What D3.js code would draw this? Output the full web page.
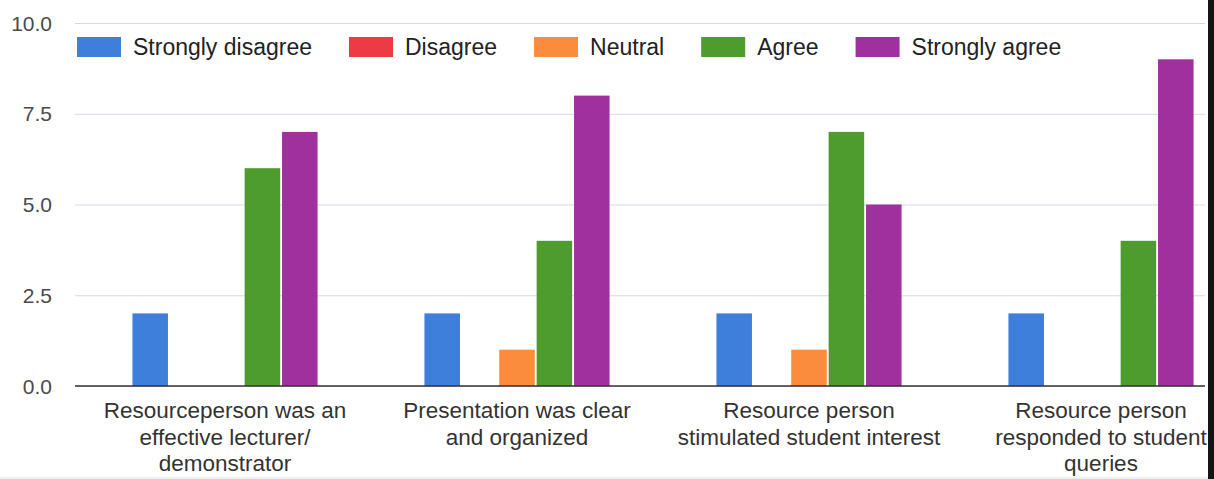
<!DOCTYPE html>
<html>
<head>
<meta charset="utf-8">
<script src="https://cdnjs.cloudflare.com/ajax/libs/d3/7.8.5/d3.min.js"></script>
<style>
  body { margin: 0; background: #fff; }
  svg { display: block; font-family: "Liberation Sans", Arial, sans-serif; }
</style>
</head>
<body>
<div id="chart"></div>
<script>
var categories = [
  ["Resourceperson was an", "effective lecturer/", "demonstrator"],
  ["Presentation was clear", "and organized"],
  ["Resource person", "stimulated student interest"],
  ["Resource person", "responded to student", "queries"]
];
var seriesNames = ["Strongly disagree", "Disagree", "Neutral", "Agree", "Strongly agree"];
var seriesColors = ["#3f7fdc", "#ec3b45", "#fb8c3e", "#4e9b2e", "#a0309e"];
var stronglyDisagree = [2, 2, 2, 2];
var disagree = [0, 0, 0, 0];
var neutral = [0, 1, 1, 0];
var agree = [6, 4, 7, 4];
var stronglyAgree = [7, 8, 5, 9];
var yTicks = [0, 2.5, 5, 7.5, 10];

var series = [stronglyDisagree, disagree, neutral, agree, stronglyAgree];

var width = 1214, height = 479;
var svg = d3.select("#chart").append("svg")
  .attr("width", width)
  .attr("height", height);

var y = d3.scaleLinear().domain([0, 10]).range([386, 23]);

var x0 = d3.scaleBand()
  .domain(d3.range(categories.length))
  .range([79, 1247])
  .paddingInner(0.366)
  .paddingOuter(0.183);

var x1 = d3.scaleBand()
  .domain(d3.range(seriesNames.length))
  .range([0, x0.bandwidth()])
  .paddingInner(0.05);

// gridlines + y labels
var yAxis = d3.axisLeft(y)
  .tickValues(yTicks)
  .tickFormat(d3.format(".1f"))
  .tickSize(-(1205 - 75))
  .tickPadding(23);

var ya = svg.append("g")
  .attr("transform", "translate(75,0)")
  .call(yAxis);
ya.select(".domain").remove();
ya.selectAll(".tick line").attr("stroke", "#d6d8e8").attr("stroke-width", 1);
ya.selectAll(".tick text")
  .attr("fill", "#4a4a4a")
  .style("font-size", "21px")
  .attr("dy", "0.34em");

// bars
var groups = svg.append("g").selectAll("g")
  .data(categories)
  .enter().append("g")
  .attr("transform", function(d, i) { return "translate(" + x0(i) + ",0)"; });

groups.selectAll("rect")
  .data(function(d, i) { return series.map(function(s, j) { return { s: j, v: s[i] }; }); })
  .enter().append("rect")
  .filter(function(d) { return d.v > 0; })
  .attr("x", function(d) { return x1(d.s); })
  .attr("width", x1.bandwidth())
  .attr("y", function(d) { return y(d.v); })
  .attr("height", function(d) { return y(0) - y(d.v); })
  .attr("fill", function(d) { return seriesColors[d.s]; });

// baseline
svg.append("line")
  .attr("x1", 75).attr("x2", 1205)
  .attr("y1", y(0)).attr("y2", y(0))
  .attr("stroke", "#333")
  .attr("stroke-width", 1.5);

// category labels
groups.each(function(lines, i) {
  var t = d3.select(this).append("text")
    .attr("text-anchor", "middle")
    .attr("fill", "#333")
    .style("font-size", "22.5px");
  t.selectAll("tspan")
    .data(lines)
    .enter().append("tspan")
    .attr("x", x0.bandwidth() / 2)
    .attr("y", function(d, k) { return 418 + k * 26.5; })
    .text(function(d) { return d; });
});

// legend
var legend = svg.append("g");
var lx = 77;
seriesNames.forEach(function(name, i) {
  var g = legend.append("g").attr("transform", "translate(" + lx + ",37)");
  g.append("rect").attr("width", 44).attr("height", 20).attr("fill", seriesColors[i]);
  var t = g.append("text")
    .attr("x", 56).attr("y", 18)
    .attr("fill", "#222")
    .style("font-size", "23px")
    .text(name);
  lx += 56 + t.node().getComputedTextLength() + 37;
});

// dark edge on the right of the photo
svg.append("rect")
  .attr("x", 1208).attr("y", 0)
  .attr("width", 6).attr("height", height)
  .attr("fill", "#141414");
svg.append("line")
  .attr("x1", 0).attr("x2", 1208)
  .attr("y1", 478).attr("y2", 478)
  .attr("stroke", "#ddd");
</script>
</body>
</html>
